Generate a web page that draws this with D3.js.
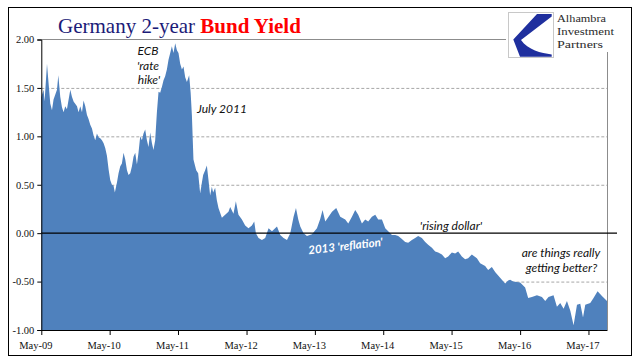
<!DOCTYPE html>
<html>
<head>
<meta charset="utf-8">
<script src="https://cdn.jsdelivr.net/npm/d3@7"></script>
<style>
  html, body { margin: 0; padding: 0; background: #fff; }
  svg { display: block; }
</style>
</head>
<body>
<svg id="chart" width="641" height="361"></svg>
<script>
// ---- data (decimal year, yield %) ----
const yearFrac = [
  2009.329, 2009.339, 2009.362, 2009.377, 2009.412, 2009.435, 2009.460, 2009.485, 2009.508, 2009.558,
  2009.578, 2009.606, 2009.631, 2009.655, 2009.679, 2009.704, 2009.753, 2009.777, 2009.801, 2009.851,
  2009.874, 2009.899, 2009.924, 2009.947, 2009.972, 2009.997, 2010.020, 2010.045, 2010.070, 2010.093,
  2010.118, 2010.143, 2010.166, 2010.191, 2010.216, 2010.239, 2010.264, 2010.289, 2010.313, 2010.337,
  2010.362, 2010.386, 2010.405, 2010.435, 2010.459, 2010.484, 2010.508, 2010.532, 2010.557, 2010.582,
  2010.605, 2010.630, 2010.655, 2010.678, 2010.703, 2010.728, 2010.751, 2010.776, 2010.801, 2010.824,
  2010.849, 2010.874, 2010.897, 2010.922, 2010.947, 2010.970, 2010.995, 2011.020, 2011.044, 2011.068,
  2011.093, 2011.117, 2011.141, 2011.166, 2011.190, 2011.215, 2011.239, 2011.263, 2011.288, 2011.313,
  2011.336, 2011.361, 2011.386, 2011.409, 2011.434, 2011.459, 2011.492, 2011.514, 2011.532, 2011.555,
  2011.595, 2011.624, 2011.653, 2011.678, 2011.697, 2011.726, 2011.751, 2011.775, 2011.799, 2011.824,
  2011.843, 2011.872, 2011.897, 2011.921, 2011.971, 2012.019, 2012.067, 2012.092, 2012.140, 2012.175,
  2012.213, 2012.263, 2012.311, 2012.359, 2012.409, 2012.443, 2012.467, 2012.506, 2012.555, 2012.603,
  2012.652, 2012.702, 2012.775, 2012.823, 2012.871, 2012.921, 2012.969, 2013.017, 2013.052, 2013.086,
  2013.115, 2013.163, 2013.213, 2013.286, 2013.359, 2013.408, 2013.441, 2013.481, 2013.529, 2013.579,
  2013.641, 2013.700, 2013.773, 2013.817, 2013.871, 2013.919, 2013.963, 2014.017, 2014.065, 2014.109,
  2014.163, 2014.212, 2014.255, 2014.310, 2014.358, 2014.402, 2014.456, 2014.504, 2014.548, 2014.602,
  2014.650, 2014.694, 2014.748, 2014.796, 2014.840, 2014.894, 2014.943, 2014.986, 2015.041, 2015.089,
  2015.133, 2015.187, 2015.235, 2015.279, 2015.333, 2015.381, 2015.425, 2015.479, 2015.527, 2015.571,
  2015.625, 2015.699, 2015.747, 2015.820, 2015.864, 2015.918, 2015.966, 2016.039, 2016.112, 2016.156,
  2016.185, 2016.229, 2016.331, 2016.404, 2016.448, 2016.503, 2016.576, 2016.649, 2016.697, 2016.745,
  2016.818, 2016.868, 2016.916, 2016.965, 2017.014, 2017.063, 2017.111, 2017.161, 2017.209, 2017.249,
  2017.282, 2017.355, 2017.403, 2017.462, 2017.526, 2017.600
];
const yieldPct = [
  1.40, 1.43, 1.48, 1.36, 1.75, 1.55, 1.34, 1.27, 1.38, 1.48,
  1.63, 1.41, 1.30, 1.25, 1.31, 1.28, 1.48, 1.41, 1.36, 1.31,
  1.25, 1.31, 1.25, 1.37, 1.31, 1.22, 1.18, 1.12, 1.08, 1.01,
  0.96, 1.03, 0.99, 0.98, 0.96, 0.93, 0.88, 0.80, 0.66, 0.55,
  0.50, 0.49, 0.42, 0.52, 0.62, 0.69, 0.72, 0.83, 0.76, 0.65,
  0.60, 0.62, 0.69, 0.79, 0.83, 0.71, 0.83, 1.00, 0.96, 1.03,
  1.07, 0.96, 0.89, 1.04, 0.93, 0.86, 0.96, 1.25, 1.46, 1.45,
  1.51, 1.58, 1.62, 1.69, 1.79, 1.86, 1.93, 1.86, 1.96, 1.89,
  1.86, 1.75, 1.69, 1.72, 1.61, 1.56, 1.63, 1.45, 1.22, 0.76,
  0.65, 0.62, 0.41, 0.52, 0.60, 0.65, 0.70, 0.55, 0.39, 0.48,
  0.42, 0.47, 0.34, 0.26, 0.16, 0.19, 0.22, 0.27, 0.20, 0.33,
  0.19, 0.14, 0.08, 0.05, 0.08, 0.12, 0.00, -0.05, -0.07, -0.05,
  0.05, 0.02, 0.07, -0.02, -0.05, -0.07, 0.00, 0.17, 0.26, 0.14,
  0.07, 0.00, -0.03, -0.01, 0.05, 0.15, 0.24, 0.12, 0.17, 0.22,
  0.26, 0.17, 0.14, 0.10, 0.17, 0.24, 0.19, 0.10, 0.14, 0.12,
  0.17, 0.19, 0.14, 0.14, 0.05, 0.02, -0.02, -0.02, -0.03, -0.06,
  -0.09, -0.10, -0.07, -0.05, -0.03, -0.05, -0.09, -0.12, -0.15, -0.19,
  -0.20, -0.22, -0.26, -0.24, -0.20, -0.21, -0.19, -0.24, -0.27, -0.26,
  -0.22, -0.26, -0.31, -0.34, -0.38, -0.35, -0.40, -0.46, -0.52, -0.49,
  -0.48, -0.50, -0.51, -0.56, -0.67, -0.66, -0.64, -0.66, -0.70, -0.66,
  -0.64, -0.76, -0.72, -0.78, -0.70, -0.80, -0.95, -0.74, -0.73, -0.87,
  -0.74, -0.72, -0.67, -0.60, -0.65, -0.70
];
const yTickValues = [2.0, 1.5, 1.0, 0.5, 0.0, -0.5, -1.0];
const dashedGridValues = [1.5, 1.0, 0.5, -0.5];
const xTickYears = [2009, 2010, 2011, 2012, 2013, 2014, 2015, 2016, 2017];
const titleParts = ["Germany 2-year ", "Bund Yield"];
const logoLines = ["Alhambra", "Investment", "Partners"];

// ---- helpers ----
function fracToDate(yf) {
  const y = Math.floor(yf);
  const s = new Date(y, 0, 1), e = new Date(y + 1, 0, 1);
  return new Date(+s + (yf - y) * (e - s));
}
const data = yearFrac.map((t, i) => ({ date: fracToDate(t), v: yieldPct[i] }));

const svg = d3.select("#chart");
const L = 41.3, R = 607, T = 39.5, B = 330;

svg.append("rect").attr("x", 0).attr("y", 0).attr("width", 641).attr("height", 361).attr("fill", "#fff");

const x = d3.scaleTime()
  .domain([new Date(2009, 4, 1), data[data.length - 1].date])
  .range([L, R]);
const y = d3.scaleLinear().domain([-1, 2]).range([B, T]);

// dashed gridlines
svg.append("g").selectAll("line").data(dashedGridValues).join("line")
  .attr("x1", L).attr("x2", R)
  .attr("y1", d => y(d) + 0.5).attr("y2", d => y(d) + 0.5)
  .attr("stroke", "#a6a6a6").attr("stroke-width", 1).attr("stroke-dasharray", "3,2");

// top line & right border
svg.append("line").attr("x1", L).attr("x2", R + 0.5).attr("y1", y(2)).attr("y2", y(2))
  .attr("stroke", "#8c8c8c").attr("stroke-width", 1);
svg.append("line").attr("x1", R + 0.5).attr("x2", R + 0.5).attr("y1", y(2)).attr("y2", B)
  .attr("stroke", "#8c8c8c").attr("stroke-width", 1);

// area
const area = d3.area()
  .x(d => x(d.date))
  .y0(y(-1))
  .y1(d => y(d.v));
svg.append("path").datum(data).attr("d", area).attr("fill", "#4f81bd");

// zero line
svg.append("line").attr("x1", L).attr("x2", 617).attr("y1", y(0)).attr("y2", y(0))
  .attr("stroke", "#000").attr("stroke-width", 1.2);

// y axis
const yAxis = d3.axisLeft(y).tickValues(yTickValues).tickSize(4).tickPadding(3)
  .tickFormat(d => d.toFixed(2));
const gy = svg.append("g").attr("transform", `translate(${L},0)`).call(yAxis);
gy.select(".domain").attr("stroke", "#000");
gy.selectAll(".tick line").attr("stroke", "#000");
gy.selectAll(".tick text").attr("font-family", "Liberation Serif, Times New Roman, serif")
  .attr("font-size", "10.5px").attr("fill", "#111");

// x axis
const xAxis = d3.axisBottom(x)
  .tickValues(xTickYears.map(yr => new Date(yr, 4, 1)))
  .tickSize(5).tickPadding(7)
  .tickFormat(d3.timeFormat("%b-%y"));
const gx = svg.append("g").attr("transform", `translate(0,${B})`).call(xAxis);
gx.select(".domain").attr("stroke", "#000").attr("d", `M${L},0.5H${R + 0.5}`);
gx.selectAll(".tick line").attr("stroke", "#000");
gx.selectAll(".tick text").attr("font-family", "Liberation Serif, Times New Roman, serif")
  .attr("font-size", "10.5px").attr("fill", "#111").attr("dx", "-6");

// outer frame
svg.append("rect").attr("x", 8.5).attr("y", 7.5).attr("width", 623).attr("height", 348)
  .attr("fill", "none").attr("stroke", "#000").attr("stroke-width", 1);

// title
const title = svg.append("text").attr("x", 58).attr("y", 33)
  .attr("font-family", "Liberation Serif, Times New Roman, serif").attr("font-size", "21px");
title.append("tspan").text(titleParts[0]).attr("fill", "#1b1b78");
title.append("tspan").text(titleParts[1]).attr("fill", "#ff0000").attr("font-weight", "bold");

// logo
svg.append("rect").attr("x", 506).attr("y", 10).attr("width", 112).attr("height", 42).attr("fill", "#fff");
svg.append("rect").attr("x", 508.5).attr("y", 12.5).attr("width", 45).attr("height", 45)
  .attr("fill", "#fff").attr("stroke", "#c8c8c8").attr("stroke-width", 1);
svg.append("path")
  .attr("d", "M551.7,14 L537,14 L513.3,39.5 L520,56.8 L551.7,56.8 L551.7,54.5 C541,53 528,50 521,40 L551.7,16.5 Z")
  .attr("fill", "#1f2f9e");
const logo = svg.append("g").attr("font-family", "Liberation Serif, Times New Roman, serif")
  .attr("font-size", "11px").attr("fill", "#2b2b2b");
logoLines.forEach((t, i) => {
  logo.append("text").attr("x", 557).attr("y", 22 + i * 12.8)
    .attr("textLength", [49, 57, 46][i]).attr("lengthAdjust", "spacingAndGlyphs")
    .text(t);
});

// annotations
const ann = svg.append("g").attr("font-family", "Lato, Calibri, sans-serif")
  .attr("font-style", "italic").attr("font-size", "12px").attr("fill", "#111");
ann.append("text").attr("x", 148).attr("y", 55).attr("text-anchor", "middle").text("ECB");
ann.append("text").attr("x", 148).attr("y", 69.5).attr("text-anchor", "middle").text("'rate");
ann.append("text").attr("x", 149).attr("y", 84).attr("text-anchor", "middle").text("hike'");
ann.append("text").attr("x", 197).attr("y", 113).text("July 2011");
ann.append("text").attr("x", 451).attr("y", 229.5).attr("text-anchor", "middle").text("'rising dollar'");
ann.append("text").attr("x", 561).attr("y", 257).attr("text-anchor", "middle").text("are things really");
ann.append("text").attr("x", 561.5).attr("y", 271.5).attr("text-anchor", "middle").text("getting better?");
svg.append("text").attr("transform", "translate(346,250) rotate(-6.5)")
  .attr("text-anchor", "middle").attr("font-family", "Lato, Calibri, sans-serif")
  .attr("font-style", "italic").attr("font-weight", "bold").attr("font-size", "11.5px")
  .attr("fill", "#fff").text("2013 'reflation'");
</script>
</body>
</html>
